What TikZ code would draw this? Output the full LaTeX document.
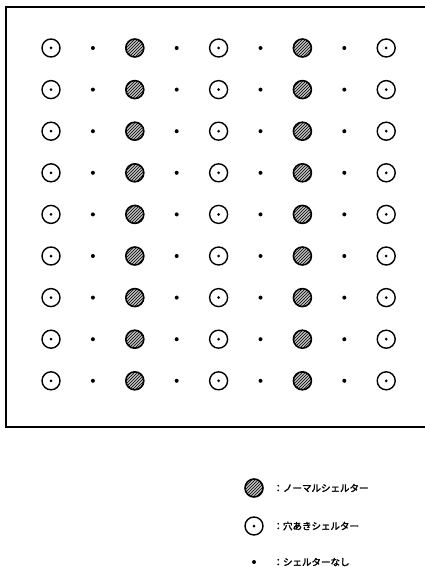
\documentclass[tikz,border=0pt]{standalone}
\usepackage{fontspec}
\newfontfamily\jpfont[FakeBold=2.5]{Noto Sans CJK JP}
\usetikzlibrary{patterns}
\tikzset{
  normal/.style={circle, draw, line width=1.6pt, minimum size=18pt, inner sep=0pt,
    preaction={fill=black!25}, pattern=north east lines, pattern color=black},
  holed/.style={circle, draw, line width=1.4pt, minimum size=18pt, inner sep=0pt,
    path picture={\fill (path picture bounding box.center) circle (1.5pt);}},
  none/.style={circle, fill, minimum size=4pt, inner sep=0pt},
  legend/.style={anchor=west, font=\jpfont\fontsize{9.5}{10}\selectfont}
}
\begin{document}
\begin{tikzpicture}[x=1pt, y=-1pt]
\useasboundingbox (0,0) rectangle (425,567);
% frame, the right side runs off the sheet
\draw[line width=1.3pt] (425,7) -- (6,7) -- (6,427) -- (425,427);
% shelter grid
\foreach \r in {0,...,8} {
  \foreach \c in {0,4,8}
    \node[holed] (s-\r-\c) at ({51+41.9*\c},{48+41.6*\r}) {};
  \foreach \c in {2,6}
    \node[normal] (s-\r-\c) at ({51+41.9*\c},{48+41.6*\r}) {};
  \foreach \c in {1,3,5,7}
    \node[none] (s-\r-\c) at ({51+41.9*\c},{48+41.6*\r}) {};
}
% legend
\node[normal] (keynormal) at (254,488) {};
\node[holed] (keyholed) at (254,526) {};
\node[none] (keynone) at (254,562) {};
\node[legend] (txtnormal) at (270,488) {：ノーマルシェルター};
\node[legend] (txtholed) at (270,526) {：穴あきシェルター};
\node[legend] (txtnone) at (270,562) {：シェルターなし};
\end{tikzpicture}
\end{document}
